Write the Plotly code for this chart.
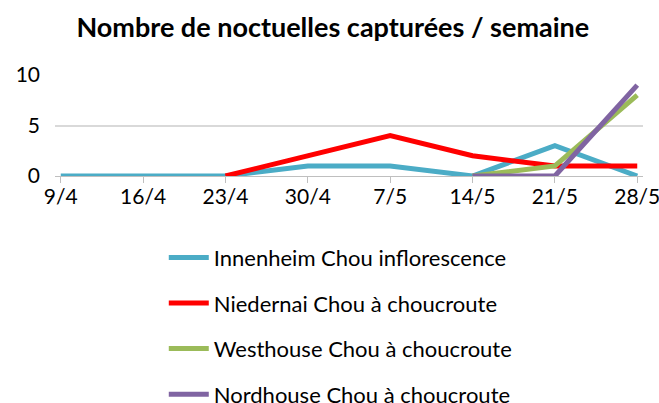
import plotly.graph_objects as go

categories = ["9/4", "16/4", "23/4", "30/4", "7/5", "14/5", "21/5", "28/5"]
innenheim = [0, 0, 0, 1, 1, 0, 3, 0]
niedernai = [None, None, 0, 2, 4, 2, 1, 1]
westhouse = [None, None, None, None, None, 0, 1, 8]
nordhouse = [None, None, None, None, None, 0, 0, 9]

series = [
    ("Innenheim Chou inflorescence", innenheim, "#4BACC6"),
    ("Niedernai Chou à choucroute", niedernai, "#FF0000"),
    ("Westhouse Chou à choucroute", westhouse, "#9BBB59"),
    ("Nordhouse Chou à choucroute", nordhouse, "#8064A2"),
]

font_family = "Lato, Open Sans, sans-serif"

fig = go.Figure()
for name, vals, color in series:
    fig.add_trace(go.Scatter(
        x=categories, y=vals, name=name, mode="lines",
        line=dict(color=color, width=5),
        legendgroup=name,
    ))

fig.update_layout(
    width=659, height=403,
    margin=dict(l=55, r=16, t=75, b=227, autoexpand=False),
    paper_bgcolor="white", plot_bgcolor="white",
    font=dict(family=font_family, size=20, color="#000000"),
    title=dict(text="<b>Nombre de noctuelles capturées / semaine</b>",
               x=0.505, xanchor="center", y=0.932, yanchor="middle",
               font=dict(size=27, family=font_family, color="#000000")),
    showlegend=True,
    legend=dict(orientation="v", x=0.185, xanchor="left", y=-0.6, yanchor="top",
                font=dict(size=22), tracegroupgap=14, itemwidth=40,
                bgcolor="rgba(0,0,0,0)"),
)
fig.update_xaxes(type="category", range=[-0.07, 7.07], showgrid=False,
                 showline=True, linecolor="#BFBFBF", linewidth=1,
                 ticks="outside", ticklen=6, tickcolor="#BFBFBF",
                 ticklabelstandoff=-4,
                 tickfont=dict(size=21), fixedrange=True)
fig.update_yaxes(range=[0, 10], tickvals=[0, 5, 10], showgrid=True,
                 gridcolor="#D9D9D9", gridwidth=1.5, zeroline=False,
                 showline=False, ticklabelstandoff=14,
                 tickfont=dict(size=21), fixedrange=True)

fig.write_html("out.html", config={"displayModeBar": False},
               post_script="document.body.style.margin='0';document.body.style.overflow='hidden';")
